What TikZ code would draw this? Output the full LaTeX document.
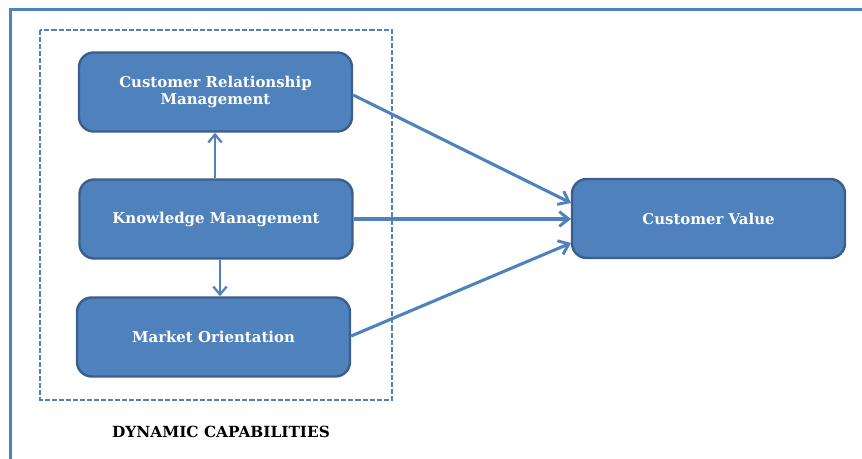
\documentclass[tikz,border=0pt]{standalone}
\usepackage{fontspec}
\setmainfont{DejaVu Serif}
\usetikzlibrary{arrows.meta}
\definecolor{boxfill}{HTML}{4F81BD}
\definecolor{boxedge}{HTML}{3A5F8C}
\definecolor{linec}{HTML}{4F81BD}
\tikzset{
  blk/.style={draw=boxedge, line width=1.8pt, fill=boxfill, rounded corners=11pt,
    minimum width=204.75pt, minimum height=59.25pt, text=white, align=center,
    font=\fontsize{11.2}{12.8}\selectfont\bfseries, inner sep=0pt},
  conn/.style={draw=linec, line width=2.3pt, -{Straight Barb[length=7pt,width=11pt,line width=2.2pt]}},
  vconn/.style={draw=linec, line width=1.7pt, -{Straight Barb[length=6pt,width=10pt,line width=1.7pt]}},
}
\begin{document}
\begin{tikzpicture}[x=0.75pt,y=-0.75pt]
\useasboundingbox (0,0) rectangle (862,459);
% outer frame
\draw[linec, line width=2pt] (10.5,470) -- (10.5,9.5) -- (875,9.5);
% dashed group
\draw[linec, line width=2.2pt, dash pattern=on 3.8pt off 1.5pt] (40,30) rectangle (392,400);
\node[blk] (crm) at (215.5,92) {Customer Relationship\\Management};
\node[blk] (km) at (216,219) {Knowledge Management};
\node[blk] (mo) at (213.5,337) {Market Orientation};
\node[blk] (cv) at (708.5,218.5) {Customer Value};
\node[font=\fontsize{11.5}{12}\selectfont\bfseries] (dc) at (221,432) {DYNAMIC CAPABILITIES};
\coordinate (cvt) at (571,203);
\coordinate (cvm) at (571,219);
\coordinate (cvb) at (571,243);
\draw[vconn] (km.north -| 215,0) -- (crm.south -| 215,0);
\draw[vconn] (km.south -| 220,0) -- (mo.north -| 220,0);
\draw[conn] (crm.east |- 0,95) -- (cvt);
\draw[conn] (km.east) -- (cvm);
\draw[conn] (mo.east |- 0,336) -- (cvb);
\end{tikzpicture}
\end{document}
